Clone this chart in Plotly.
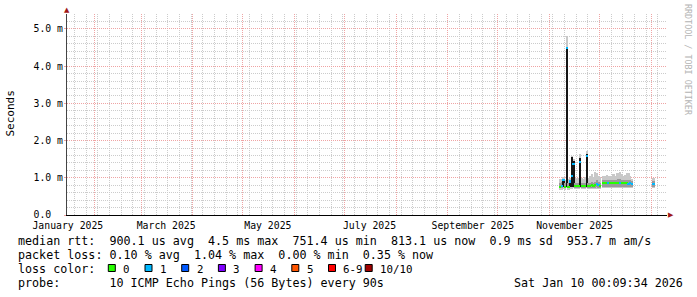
import plotly.graph_objects as go

# ---------------- data ----------------
days = [
    "2025-11-07", "2025-11-08", "2025-11-09", "2025-11-10", "2025-11-11", "2025-11-12",
    "2025-11-13", "2025-11-14", "2025-11-15", "2025-11-16", "2025-11-17", "2025-11-18",
    "2025-11-19", "2025-11-20", "2025-11-21", "2025-11-22", "2025-11-23", "2025-11-24",
    "2025-11-25", "2025-11-26", "2025-11-27", "2025-11-28", "2025-11-29", "2025-11-30",
    "2025-12-01", "2025-12-03", "2025-12-04", "2025-12-05", "2025-12-06", "2025-12-07",
    "2025-12-08", "2025-12-09", "2025-12-10", "2025-12-11", "2025-12-12", "2025-12-13",
    "2025-12-14", "2025-12-15", "2025-12-16", "2025-12-17", "2025-12-18", "2025-12-19",
    "2025-12-20", "2026-01-02",
]
median_ms = [
    0.76, 0.78, 0.93, 0.76, 4.48, 0.76, 0.90, 1.05, 1.36, 0.78, 0.78, 0.78,
    1.42, 0.78, 0.78, 0.79, 1.58, 0.78, 0.78, 0.80, 0.79, 0.80, 0.83, 0.80,
    0.79, 0.85, 0.86, 0.85, 0.87, 0.85, 0.85, 0.86, 0.85, 0.85, 0.86, 0.87,
    0.86, 0.85, 0.85, 0.86, 0.84, 0.86, 0.84, 0.83,
]
loss_pings = [
    0, 1, 1, 0, 1, 0, 1, 1, 1, 0, 0, 0,
    1, 0, 0, 0, 1, 0, 0, 0, 0, 0, 1, 1,
    0, 0, 0, 0, 1, 0, 0, 0, 0, 0, 0, 1,
    0, 0, 0, 0, 1, 1, 1, 1,
]
smoke_lo_ms = [
    0.68, 0.68, 0.70, 0.68, 0.72, 0.68, 0.70, 0.70, 0.72, 0.70, 0.70, 0.70,
    0.72, 0.70, 0.70, 0.70, 0.72, 0.70, 0.70, 0.70, 0.70, 0.70, 0.71, 0.70,
    0.70, 0.72, 0.72, 0.72, 0.72, 0.72, 0.72, 0.72, 0.72, 0.72, 0.72, 0.72,
    0.72, 0.72, 0.72, 0.72, 0.72, 0.72, 0.72, 0.72,
]
smoke_hi_ms = [
    0.97, 0.98, 1.02, 0.95, 4.80, 0.96, 1.00, 1.58, 1.50, 1.00, 0.98, 1.00,
    1.64, 1.00, 0.98, 1.02, 1.72, 1.00, 1.05, 1.10, 1.02, 1.16, 1.14, 1.05,
    1.02, 1.04, 1.06, 1.08, 1.05, 1.04, 1.06, 1.10, 1.06, 1.12, 1.14, 1.16,
    1.10, 1.06, 1.08, 1.12, 1.14, 1.06, 0.98, 1.00,
]
core_lo_ms = [
    0.72, 0.72, 0.74, 0.72, 0.75, 0.72, 0.74, 0.74, 0.75, 0.73, 0.73, 0.73,
    0.75, 0.73, 0.73, 0.73, 0.75, 0.73, 0.73, 0.73, 0.73, 0.73, 0.74, 0.73,
    0.73, 0.76, 0.76, 0.76, 0.76, 0.76, 0.76, 0.76, 0.76, 0.76, 0.76, 0.76,
    0.76, 0.76, 0.76, 0.76, 0.76, 0.76, 0.76, 0.76,
]
core_hi_ms = [
    0.86, 0.88, 0.95, 0.85, 4.52, 0.86, 0.92, 1.55, 1.46, 0.86, 0.86, 0.86,
    1.53, 0.86, 0.86, 0.87, 1.65, 0.86, 0.86, 0.88, 0.86, 0.90, 0.95, 0.88,
    0.87, 0.94, 0.94, 0.94, 0.95, 0.94, 0.94, 0.95, 0.94, 0.95, 0.96, 0.97,
    0.95, 0.94, 0.94, 0.95, 0.95, 0.94, 0.92, 0.92,
]

loss_labels = ["0", "1", "2", "3", "4", "5", "6-9", "10/10"]
loss_colors = ["#26ff00", "#00b8ff", "#0059ff", "#7e00ff", "#ff00ff", "#ff5500", "#ff0000", "#a00000"]

y_tick_vals = [0, 1, 2, 3, 4, 5]
y_tick_text = ["0.0\u00a0\u00a0", "1.0 m", "2.0 m", "3.0 m", "4.0 m", "5.0 m"]
x_label_dates = ["2025-01-16", "2025-03-16", "2025-05-16", "2025-07-16", "2025-09-16", "2025-11-16"]
x_label_text = ["January 2025", "March 2025", "May 2025", "July 2025", "September 2025", "November 2025"]

legend_lines = [
    "median rtt:  900.1 us avg  4.5 ms max  751.4 us min  813.1 us now  0.9 ms sd  953.7 m am/s",
    "packet loss: 0.10 % avg  1.04 % max  0.00 % min  0.35 % now",
    "loss color:",
    "probe:       10 ICMP Echo Pings (56 Bytes) every 90s",
]
stamp = "Sat Jan 10 00:09:34 2026"

# ---------------- layout constants ----------------
W, H = 697, 297
L, R, T, B = 67, 667, 14, 215
MONO = "DejaVu Sans Mono"
DAY = 86400000
MAJOR_GRID = "#efa4a4"
MINOR_GRID = "#cccccc"
DOTS = "1px,1px"


def px(xp):
    return (xp - L) / (R - L)


def py(yp):
    return (B - yp) / (B - T)


def nb(s):
    return s.replace(" ", "\u00a0")


def bucket(n):
    if n <= 5:
        return n
    if n < 10:
        return 6
    return 7


median_colors = [loss_colors[bucket(n)] for n in loss_pings]
core_colors = ["#151515" if (m - c) > 0.15 else "#9a9a9a" for m, c in zip(median_ms, core_lo_ms)]

fig = go.Figure()
fig.add_trace(go.Bar(
    x=days, base=smoke_lo_ms, y=[h - l for h, l in zip(smoke_hi_ms, smoke_lo_ms)],
    width=DAY, offset=0, marker=dict(color="#c8c8c8", line=dict(width=0)),
    hoverinfo="skip", showlegend=False,
))
fig.add_trace(go.Bar(
    x=days, base=core_lo_ms, y=[h - l for h, l in zip(core_hi_ms, core_lo_ms)],
    width=DAY, offset=0, marker=dict(color=core_colors, line=dict(width=0)),
    hoverinfo="skip", showlegend=False,
))
fig.add_trace(go.Bar(
    x=days, base=[m - 0.028 for m in median_ms], y=[0.056] * len(median_ms),
    width=DAY, offset=0, marker=dict(color=median_colors, line=dict(width=0)),
    hoverinfo="skip", showlegend=False,
))
# carrier for the label axis
fig.add_trace(go.Scatter(x=[x_label_dates[0]], y=[None], xaxis="x2", mode="markers",
                         showlegend=False, hoverinfo="skip"))

x_range = ["2025-01-15 12:00:00", "2026-01-10 12:00:00"]


def ann(text, xp, yp, size=11.7, xanchor="left", color="#000000", angle=0, family=MONO):
    return dict(text=text, x=px(xp), y=py(yp), xref="paper", yref="paper",
                xanchor=xanchor, yanchor="middle", showarrow=False, borderpad=0,
                textangle=angle, font=dict(family=family, size=size, color=color))


annotations = []
line_y = [241, 255, 269, 283]
for text, yy in zip(legend_lines, line_y):
    annotations.append(ann(nb(text), 16.5, yy))
annotations.append(ann(nb(stamp), 683.5, 283, xanchor="right"))

shapes = []
box_x0, box_step, box_w = 108.3, 36.7, 7
for i, (lab, col) in enumerate(zip(loss_labels, loss_colors)):
    bx = box_x0 + i * box_step
    shapes.append(dict(type="rect", xref="paper", yref="paper",
                       x0=px(bx), x1=px(bx + box_w), y0=py(271.5), y1=py(264.5),
                       fillcolor=col, line=dict(color="#000000", width=1)))
    annotations.append(ann(nb(lab), bx + 13.8, 269, size=10.8))

annotations.append(ann("Seconds", 10.5, 114, size=11, xanchor="center", angle=-90))
annotations.append(ann(nb("RRDTOOL / TOBI OETIKER"), 688, 60, size=8.4, xanchor="center",
                       color="#b4b4b4", angle=90))
annotations.append(ann("\u25b2", 67, 10.5, size=7, xanchor="center", color="#a01818", family="DejaVu Sans"))
annotations.append(ann("\u25b6", 671, 215, size=7, xanchor="center", color="#a01818", family="DejaVu Sans"))

fig.update_layout(
    width=W, height=H,
    margin=dict(l=L, r=W - R, t=T, b=H - B, pad=0),
    paper_bgcolor="#ffffff", plot_bgcolor="#ffffff",
    barmode="overlay", bargap=0, showlegend=False,
    xaxis=dict(
        type="date", range=x_range, showticklabels=False, ticks="",
        showgrid=True, gridcolor=MAJOR_GRID, griddash=DOTS, gridwidth=1,
        dtick="M1", tick0="2025-01-01",
        minor=dict(dtick=7 * DAY, tick0="2025-01-20", showgrid=True,
                   gridcolor=MINOR_GRID, griddash=DOTS, gridwidth=1),
        showline=True, linecolor="#000000", linewidth=1, zeroline=False, fixedrange=True,
    ),
    xaxis2=dict(
        type="date", overlaying="x", matches="x", anchor="y", side="bottom",
        range=x_range, tickmode="array", tickvals=x_label_dates, ticktext=x_label_text,
        showgrid=False, ticks="outside", ticklen=1, tickcolor="rgba(0,0,0,0)",
        tickfont=dict(family=MONO, size=9.8, color="#000000"), showline=False, fixedrange=True,
    ),
    yaxis=dict(
        range=[0, 5.4], tickmode="array", tickvals=y_tick_vals, ticktext=y_tick_text,
        showgrid=True, gridcolor=MAJOR_GRID, griddash=DOTS, gridwidth=1,
        minor=dict(dtick=0.2, showgrid=True, gridcolor=MINOR_GRID, griddash=DOTS, gridwidth=1),
        showline=True, linecolor="#444444", linewidth=1, zeroline=False,
        ticks="outside", ticklen=2, tickcolor=MAJOR_GRID, ticklabelstandoff=-1,
        tickfont=dict(family=MONO, size=9.8, color="#000000"), fixedrange=True,
    ),
    annotations=annotations, shapes=shapes,
)

fig.write_html("out.html", config={"displayModeBar": False})
